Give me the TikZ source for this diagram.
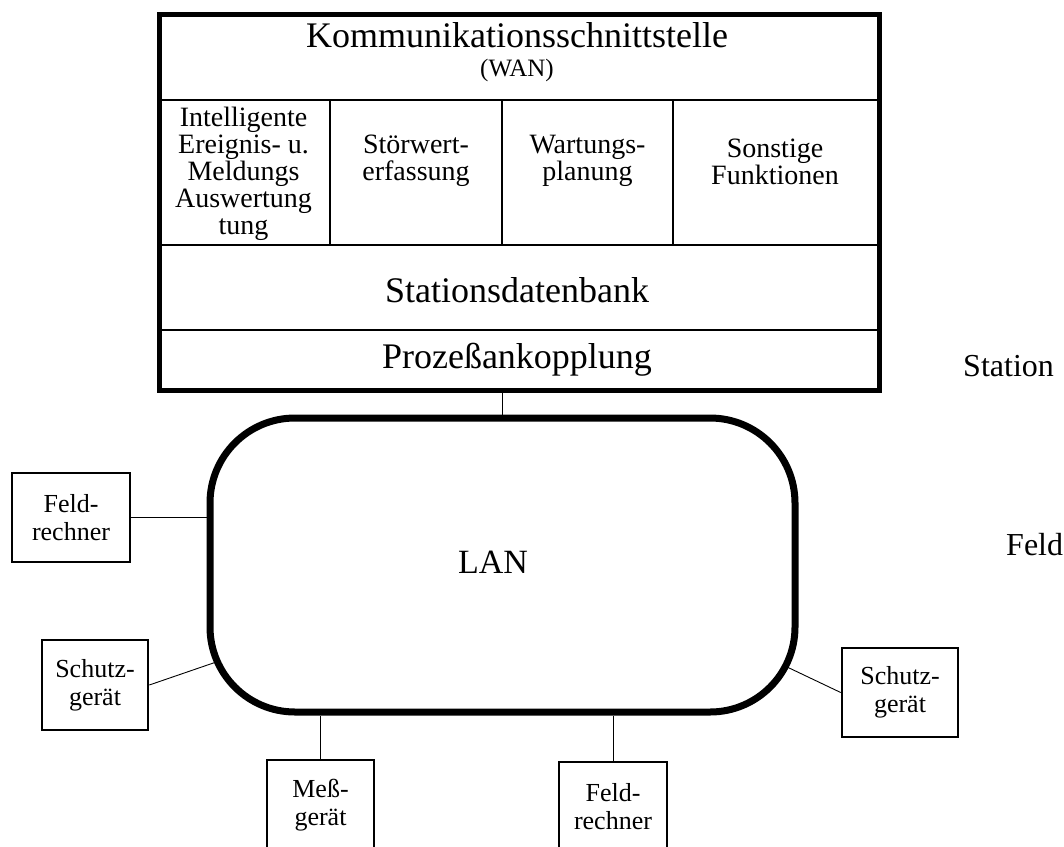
\documentclass[tikz,border=0pt]{standalone}
\usepackage{fontspec}
\setmainfont{Liberation Serif}
\begin{document}
\begin{tikzpicture}[x=1pt,y=-1pt,
  grid/.style={line width=1.3pt},
  conn/.style={line width=0.9pt},
  dev/.style={draw,line width=2.6pt,align=center,inner sep=0pt,
    font=\fontsize{26}{28}\selectfont},
  cell/.style={align=center,inner sep=0pt,font=\fontsize{28}{27}\selectfont},
  big/.style={inner sep=0pt,font=\fontsize{36}{36}\selectfont},
  side/.style={inner sep=0pt,font=\fontsize{32}{32}\selectfont}]
\useasboundingbox (0,0) rectangle (1064,846);
\clip (0,0) rectangle (1064,846);
% main station box
\node[draw,line width=4.5pt,minimum width=720pt,minimum height=376pt,anchor=north west,inner sep=0pt] (station) at (157,12) {};
\draw[grid] (157,100) -- (877,100);
\draw[grid] (157,245) -- (877,245);
\draw[grid] (157,330) -- (877,330);
\draw[grid] (330,100) -- (330,245);
\draw[grid] (502,100) -- (502,245);
\draw[grid] (673,100) -- (673,245);
\node[big] (komm) at (517,35) {Kommunikationsschnittstelle};
\node[inner sep=0pt,font=\fontsize{25}{25}\selectfont] (wan) at (517,70) {(WAN)};
\node[cell] (c1) at (243.5,174) {Intelligente\\Ereignis- u.\\Meldungs\\Auswertung\\tung};
\node[cell] (c2) at (416,161) {Störwert-\\erfassung};
\node[cell] (c3) at (587.5,161) {Wartungs-\\planung};
\node[cell] (c4) at (775,162) {Sonstige\\Funktionen};
\node[big] (sdb) at (517,290) {Stationsdatenbank};
\node[big] (proz) at (517,360) {Prozeßankopplung};
% LAN
\node[draw,line width=7pt,rounded corners=85pt,minimum width=585pt,minimum height=294pt] (lan) at (502.5,565) {};
\node[inner sep=0pt,font=\fontsize{34}{34}\selectfont] (lanlabel) at (493,562) {LAN};
% devices
\node[dev,minimum width=118pt,minimum height=89pt] (fr1) at (71,517.5) {Feld-\\rechner};
\node[dev,minimum width=106pt,minimum height=90pt] (sg1) at (95,685) {Schutz-\\gerät};
\node[dev,minimum width=107pt,minimum height=90pt] (mg) at (320.5,805) {Meß-\\gerät};
\node[dev,minimum width=108pt,minimum height=90pt] (fr2) at (613,807) {Feld-\\rechner};
\node[dev,minimum width=116pt,minimum height=89pt] (sg2) at (900,692.5) {Schutz-\\gerät};
\coordinate (lanSW) at (217.4,661.6);
\coordinate (lanSE) at (785.4,666.2);
% connectors
\draw[conn] (lan.north) -- (lan.north |- station.south);
\draw[conn] (fr1.east) -- (fr1.east -| lan.west);
\draw[conn] (sg1.east) -- (lanSW);
\draw[conn] (sg2.west) -- (lanSE);
\draw[conn] (mg.north) -- (mg.north |- lan.south);
\draw[conn] (fr2.north) -- (fr2.north |- lan.south);
% level labels
\node[side,anchor=west] (lst) at (963,366) {Station};
\node[side,anchor=west] (lfe) at (1006,545) {Feld};
\end{tikzpicture}
\end{document}
